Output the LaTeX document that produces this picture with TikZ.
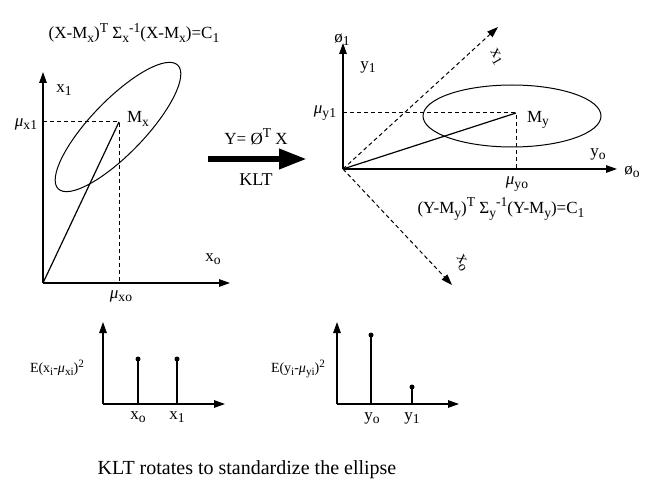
\documentclass[tikz,border=0pt]{standalone}
\usepackage{fontspec}
\setmainfont{Liberation Serif}
\usetikzlibrary{arrows.meta}
\newcommand\dn[1]{\raisebox{-0.45ex}{\scalebox{0.8}{#1}}}
\newcommand\up[1]{\raisebox{0.85ex}{\scalebox{0.8}{#1}}}
\newcommand\mmu{\textit{μ}}
\begin{document}
\begin{tikzpicture}[x=1pt,y=-1pt,
  axis/.style={line width=1.3pt,-{Triangle[length=11pt,width=7.5pt]}},
  dashline/.style={dash pattern=on 4pt off 3pt, line width=1pt},
  dashaxis/.style={dash pattern=on 4pt off 3pt, line width=1pt,-{Triangle[length=11pt,width=7.5pt]}},
  solidline/.style={line width=1.2pt},
  ell/.style={line width=1pt},
  lbl/.style={font=\fontsize{17}{19}\selectfont, inner sep=0pt},
  slbl/.style={font=\fontsize{14}{16}\selectfont, inner sep=0pt},
  big/.style={font=\fontsize{18}{21}\selectfont, inner sep=0pt},
  dot/.style={circle, fill=black, inner sep=0pt, minimum size=5pt},
]
\useasboundingbox[fill=white] (0,0) rectangle (655,502);

% ---------- left panel ----------
\coordinate (O1) at (43,283);
\coordinate (Y1) at (43,72);
\coordinate (X1) at (230,283);
\coordinate (Mx) at (119,122);
\coordinate (mx1) at (43,122);
\coordinate (mx0) at (119,283);
\draw[axis] (O1) -- (Y1);
\draw[axis] (O1) -- (X1);
\draw[dashline] (mx1) -- (Mx) -- (mx0);
\draw[solidline] (O1) -- (Mx);
\draw[ell, shift={(118,127)}, rotate=46] (0,0) ellipse [x radius=86, y radius=27];
\node[lbl] (fx) at (134,33) {(X-M\dn{x})\up{T} Σ\dn{x}\up{-1}(X-M\dn{x})=C\dn{1}};
\node[lbl] (lx1) at (64,90) {x\dn{1}};
\node[lbl] (lMx) at (138,119) {M\dn{x}};
\node[lbl] (lmx1) at (26,124) {\mmu\dn{x1}};
\node[lbl] (lx0) at (213,259) {x\dn{o}};
\node[lbl] (lmx0) at (121,296) {\mmu\dn{xo}};

% ---------- transform arrow ----------
\coordinate (A1) at (208,159);
\coordinate (A2) at (307,159);
\draw[line width=6.5pt,-{Triangle[length=28pt,width=19pt]}] (A1) -- (A2);
\node[lbl] (eq) at (256,137) {Y= Ø\up{T} X};
\node[big] (klt) at (256,180) {KLT};

% ---------- right panel ----------
\coordinate (O2) at (343,169);
\coordinate (Y2) at (343,43);
\coordinate (X2) at (617,169);
\coordinate (D1) at (498,27);
\coordinate (D0) at (452,285);
\coordinate (My) at (516,113);
\coordinate (my1) at (343,113);
\coordinate (my0) at (516,169);
\draw[axis] (O2) -- (Y2);
\draw[axis] (O2) -- (X2);
\draw[dashaxis] (O2) -- (D1);
\draw[dashaxis] (O2) -- (D0);
\draw[dashline] (my1) -- (My) -- (my0);
\draw[solidline] (O2) -- (My);
\draw[ell] (512,116) ellipse [x radius=89, y radius=31];
\node[lbl] (lphi1) at (342,40) {ø\dn{1}};
\node[lbl] (ly1) at (368,67) {y\dn{1}};
\node[lbl] (lmy1) at (325,113) {\mmu\dn{y1}};
\node[lbl, rotate=-60] (lxr1) at (496,57) {x\kern0.5pt\dn{1}};
\node[lbl, rotate=-60] (lxr0) at (462,263) {x\kern0.5pt\dn{o}};
\node[lbl] (lMy) at (538,120) {M\dn{y}};
\node[lbl] (ly0) at (598,154) {y\dn{o}};
\node[lbl] (lphi0) at (632,172) {ø\dn{o}};
\node[lbl] (lmy0) at (517,184) {\mmu\dn{yo}};
\node[lbl] (fy) at (501,209) {(Y-M\dn{y})\up{T} Σ\dn{y}\up{-1}(Y-M\dn{y})=C\dn{1}};

% ---------- bottom left chart ----------
\coordinate (O3) at (103,404);
\coordinate (Y3) at (103,322);
\coordinate (X3) at (225,404);
\draw[axis] (O3) -- (Y3);
\draw[axis] (O3) -- (X3);
\coordinate (b1) at (138,404);
\coordinate (b2) at (177,404);
\node[dot] (t1) at (138,359) {};
\node[dot] (t2) at (177,359) {};
\draw[solidline] (b1) -- (t1.center);
\draw[solidline] (b2) -- (t2.center);
\node[lbl] (lb1) at (138,417) {x\dn{o}};
\node[lbl] (lb2) at (177,417) {x\dn{1}};
\node[slbl] (ex) at (57,368) {E(x\dn{i}-\mmu\dn{xi})\up{2}};

% ---------- bottom right chart ----------
\coordinate (O4) at (337,404);
\coordinate (Y4) at (337,322);
\coordinate (X4) at (459,404);
\draw[axis] (O4) -- (Y4);
\draw[axis] (O4) -- (X4);
\coordinate (c1) at (371,404);
\coordinate (c2) at (412,404);
\node[dot] (u1) at (371,335) {};
\node[dot] (u2) at (412,387) {};
\draw[solidline] (c1) -- (u1.center);
\draw[solidline] (c2) -- (u2.center);
\node[lbl] (lc1) at (372,418) {y\dn{o}};
\node[lbl] (lc2) at (412,418) {y\dn{1}};
\node[slbl] (ey) at (298,369) {E(y\dn{i}-\mmu\dn{yi})\up{2}};

% ---------- caption ----------
\node[big, font=\fontsize{20}{24}\selectfont] (cap) at (247,470) {KLT rotates to standardize the ellipse};
\end{tikzpicture}
\end{document}
